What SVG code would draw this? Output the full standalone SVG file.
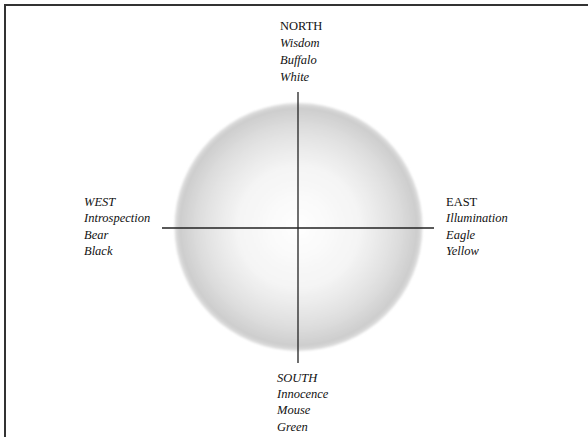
<svg xmlns="http://www.w3.org/2000/svg" width="588" height="437" viewBox="0 0 588 437">
<defs>
<radialGradient id="sphere" cx="0.5" cy="0.5" r="0.5">
<stop offset="0" stop-color="#ffffff"/>
<stop offset="0.5" stop-color="#f4f4f4"/>
<stop offset="0.8" stop-color="#dedede"/>
<stop offset="0.96" stop-color="#cdcdcd"/>
<stop offset="1" stop-color="#e2e2e2"/>
</radialGradient>
<filter id="soft" x="-10%" y="-10%" width="120%" height="120%"><feGaussianBlur stdDeviation="1.2"/></filter>
</defs>
<style>
.lbl{font-family:"Liberation Serif","DejaVu Serif",serif;font-size:12.5px;font-style:italic;fill:#111}
.cap{font-style:normal}
.ax{stroke:#222;stroke-width:1.3;fill:none}
.frame{stroke:#333;stroke-width:2;fill:none}
</style>
<rect width="588" height="437" fill="#fff"/>
<path class="frame" d="M5,437 V5 H588"/>
<g id="sphere-node">
<circle cx="298.5" cy="227" r="124" fill="url(#sphere)" filter="url(#soft)"/>
</g>
<g id="connectors">
<line class="ax" x1="298" y1="92" x2="298" y2="363"/>
<line class="ax" x1="162" y1="228" x2="434" y2="228"/>
</g>
<g id="north">
<text class="lbl cap" x="280" y="30">NORTH</text>
<text class="lbl" x="280" y="47">Wisdom</text>
<text class="lbl" x="280" y="64">Buffalo</text>
<text class="lbl" x="280" y="81">White</text>
</g>
<g id="west">
<text class="lbl" x="84" y="206">WEST</text>
<text class="lbl" x="84" y="222">Introspection</text>
<text class="lbl" x="84" y="239">Bear</text>
<text class="lbl" x="84" y="255">Black</text>
</g>
<g id="east">
<text class="lbl cap" x="446" y="206">EAST</text>
<text class="lbl" x="446" y="222">Illumination</text>
<text class="lbl" x="446" y="239">Eagle</text>
<text class="lbl" x="446" y="255">Yellow</text>
</g>
<g id="south">
<text class="lbl" x="277" y="382">SOUTH</text>
<text class="lbl" x="277" y="398">Innocence</text>
<text class="lbl" x="277" y="414">Mouse</text>
<text class="lbl" x="277" y="431">Green</text>
</g>
</svg>
